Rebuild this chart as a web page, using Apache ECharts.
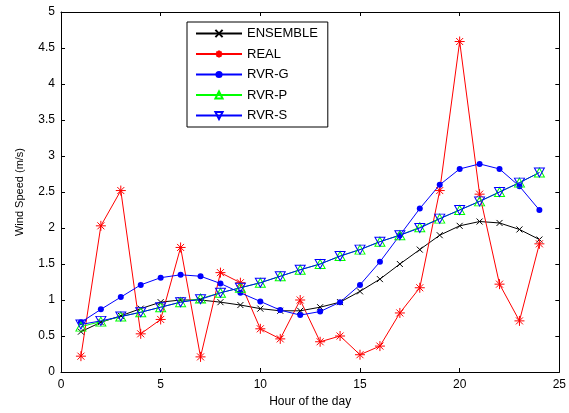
<!DOCTYPE html>
<html><head><meta charset="utf-8">
<script src="https://cdn.jsdelivr.net/npm/echarts@6/dist/echarts.min.js"></script>
<style>html,body{margin:0;padding:0;background:#fff}#c{width:569px;height:413px}</style>
</head><body><div id="c"></div>
<script>
var hours = [1,2,3,4,5,6,7,8,9,10,11,12,13,14,15,16,17,18,19,20,21,22,23,24];
var ensemble = [0.56,0.69,0.78,0.88,0.97,1.00,1.00,0.97,0.93,0.88,0.85,0.85,0.90,0.97,1.12,1.29,1.50,1.70,1.90,2.03,2.09,2.07,1.98,1.84];
var real = [0.22,2.03,2.52,0.53,0.73,1.73,0.21,1.38,1.24,0.60,0.46,1.00,0.42,0.50,0.24,0.36,0.82,1.17,2.52,4.59,2.47,1.22,0.71,1.78];
var rvrG = [0.69,0.87,1.04,1.21,1.31,1.35,1.33,1.23,1.10,0.98,0.86,0.79,0.84,0.97,1.21,1.53,1.90,2.27,2.60,2.82,2.89,2.82,2.58,2.25];
var rvrP = [0.63,0.70,0.77,0.83,0.90,0.97,1.02,1.10,1.17,1.24,1.33,1.42,1.50,1.61,1.70,1.81,1.90,2.01,2.13,2.25,2.37,2.50,2.63,2.77];
var rvrS = [0.66,0.71,0.77,0.83,0.90,0.97,1.01,1.10,1.17,1.24,1.33,1.42,1.50,1.61,1.70,1.81,1.90,2.00,2.13,2.25,2.37,2.50,2.63,2.77];
var seriesNames = ['ENSEMBLE','REAL','RVR-G','RVR-P','RVR-S'];

function pairs(v){ return hours.map(function(h,i){ return [h, v[i]]; }); }
var font = 'Arial, "Liberation Sans", sans-serif';
var xSym = 'path://M0 0L10 10M10 0L0 10';
var starSym = 'path://M5 0L5 10M0 5L10 5M1.5 1.5L8.5 8.5M8.5 1.5L1.5 8.5';
var triUp = 'path://M5 0L10 8.66L0 8.66Z';
var triDown = 'path://M0 0L10 0L5 8.66Z';

var chart = echarts.init(document.getElementById('c'), null, {renderer:'canvas'});
function axisCommon(){
  return {
    axisLine:{show:true, onZero:false, lineStyle:{color:'#000', width:1}},
    axisTick:{show:true, inside:true, length:4, lineStyle:{color:'#000'}},
    splitLine:{show:false}
  };
}
var xBase = {type:'value', min:0, max:25, interval:5};
var yBase = {type:'value', min:0, max:5, interval:0.5};
var option = {
  animation:false,
  backgroundColor:'#fff',
  grid:{left:61, right:7, top:12, bottom:40},
  xAxis:[
    Object.assign({}, xBase, axisCommon(), {position:'bottom', name:'Hour of the day', nameLocation:'middle', nameGap:24,
      nameTextStyle:{fontFamily:font, fontSize:12, color:'#000'},
      axisLabel:{fontFamily:font, fontSize:12, color:'#000', margin:7}}),
    Object.assign({}, xBase, axisCommon(), {position:'top', axisLabel:{show:false}})
  ],
  yAxis:[
    Object.assign({}, yBase, axisCommon(), {position:'left', name:'Wind Speed (m/s)', nameLocation:'middle', nameGap:36,
      nameTextStyle:{fontFamily:font, fontSize:11, color:'#000'},
      axisLabel:{fontFamily:font, fontSize:12, color:'#000', margin:6, formatter:function(v){return String(v);}}}),
    Object.assign({}, yBase, axisCommon(), {position:'right', axisLabel:{show:false}})
  ],
  legend:{
    left:187, top:22, orient:'vertical', itemWidth:46, itemHeight:9, itemGap:7.5,
    padding:[5,10,5,8], borderColor:'#000', borderWidth:1, backgroundColor:'#fff',
    textStyle:{fontFamily:font, fontSize:13, color:'#000'},
    data:seriesNames
  },
  series:[
    {name:seriesNames[0], type:'line', data:pairs(ensemble), symbol:xSym, symbolSize:6,
      lineStyle:{color:'#000', width:1}, itemStyle:{color:'none', borderColor:'#000', borderWidth:1}},
    {name:seriesNames[1], type:'line', data:pairs(real), symbol:starSym, symbolSize:10,
      lineStyle:{color:'#ff0000', width:1}, itemStyle:{color:'none', borderColor:'#ff0000', borderWidth:1}},
    {name:seriesNames[2], type:'line', data:pairs(rvrG), symbol:'circle', symbolSize:6,
      lineStyle:{color:'#0000ff', width:1}, itemStyle:{color:'#0000ff', borderColor:'#0000ff', borderWidth:0}},
    {name:seriesNames[3], type:'line', data:pairs(rvrP), symbol:triUp, symbolSize:[10,9],
      lineStyle:{color:'#00ff00', width:1}, itemStyle:{color:'none', borderColor:'#00ff00', borderWidth:1}},
    {name:seriesNames[4], type:'line', data:pairs(rvrS), symbol:triDown, symbolSize:[10,9],
      lineStyle:{color:'#0000ff', width:1}, itemStyle:{color:'none', borderColor:'#0000ff', borderWidth:1}}
  ]
};
chart.setOption(option);
</script></body></html>
